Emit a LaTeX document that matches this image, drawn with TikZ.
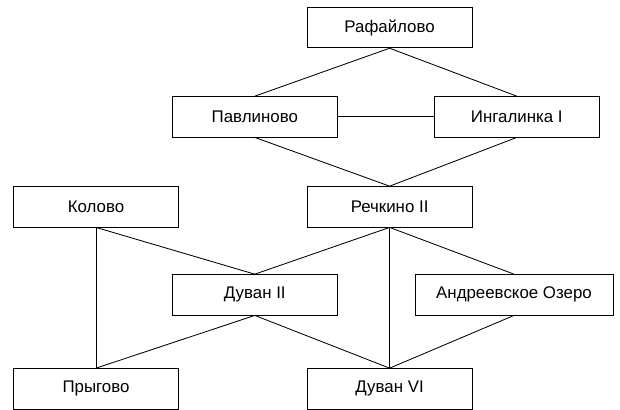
\documentclass[tikz,border=0pt]{standalone}
\usepackage{fontspec}
\setmainfont{Liberation Sans}
\usepackage{tikz}

\begin{document}
\begin{tikzpicture}[
    site/.style={draw, line width=0.6pt, minimum width=4.125cm, minimum height=1.01cm,
                 font=\fontsize{12}{14}\selectfont, inner sep=0pt},
    link/.style={line width=0.6pt}
]
    \useasboundingbox (0, 0) rectangle (15.5, 10.25);

    % top
    \node[site] (raf) at (9.74, 9.56) {Рафайлово};

    % second row
    \node[site] (pav) at (6.37, 7.33) {Павлиново};
    \node[site] (ing) at (12.92, 7.33) {Ингалинка I};

    % third row
    \node[site] (kol) at (2.4, 5.08) {Колово};
    \node[site] (rech) at (9.74, 5.08) {Речкино II};

    % fourth row
    \node[site] (duv2) at (6.37, 2.88) {Дуван II};
    \node[site, minimum width=4.95cm] (andr) at (12.85, 2.88) {Андреевское Озеро};

    % bottom
    \node[site] (pryg) at (2.4, 0.53) {Прыгово};
    \node[site] (duv6) at (9.74, 0.53) {Дуван VI};

    % links
    \draw[link] (raf.south) -- (pav.north);
    \draw[link] (raf.south) -- (ing.north);
    \draw[link] (pav.east) -- (ing.west);
    \draw[link] (pav.south) -- (rech.north);
    \draw[link] (ing.south) -- (rech.north);
    \draw[link] (kol.south) -- (duv2.north);
    \draw[link] (kol.south) -- (pryg.north);
    \draw[link] (rech.south) -- (duv2.north);
    \draw[link] (rech.south) -- (andr.north);
    \draw[link] (rech.south) -- (duv6.north);
    \draw[link] (duv2.south) -- (pryg.north);
    \draw[link] (duv2.south) -- (duv6.north);
    \draw[link] (andr.south) -- (duv6.north);
\end{tikzpicture}
\end{document}
